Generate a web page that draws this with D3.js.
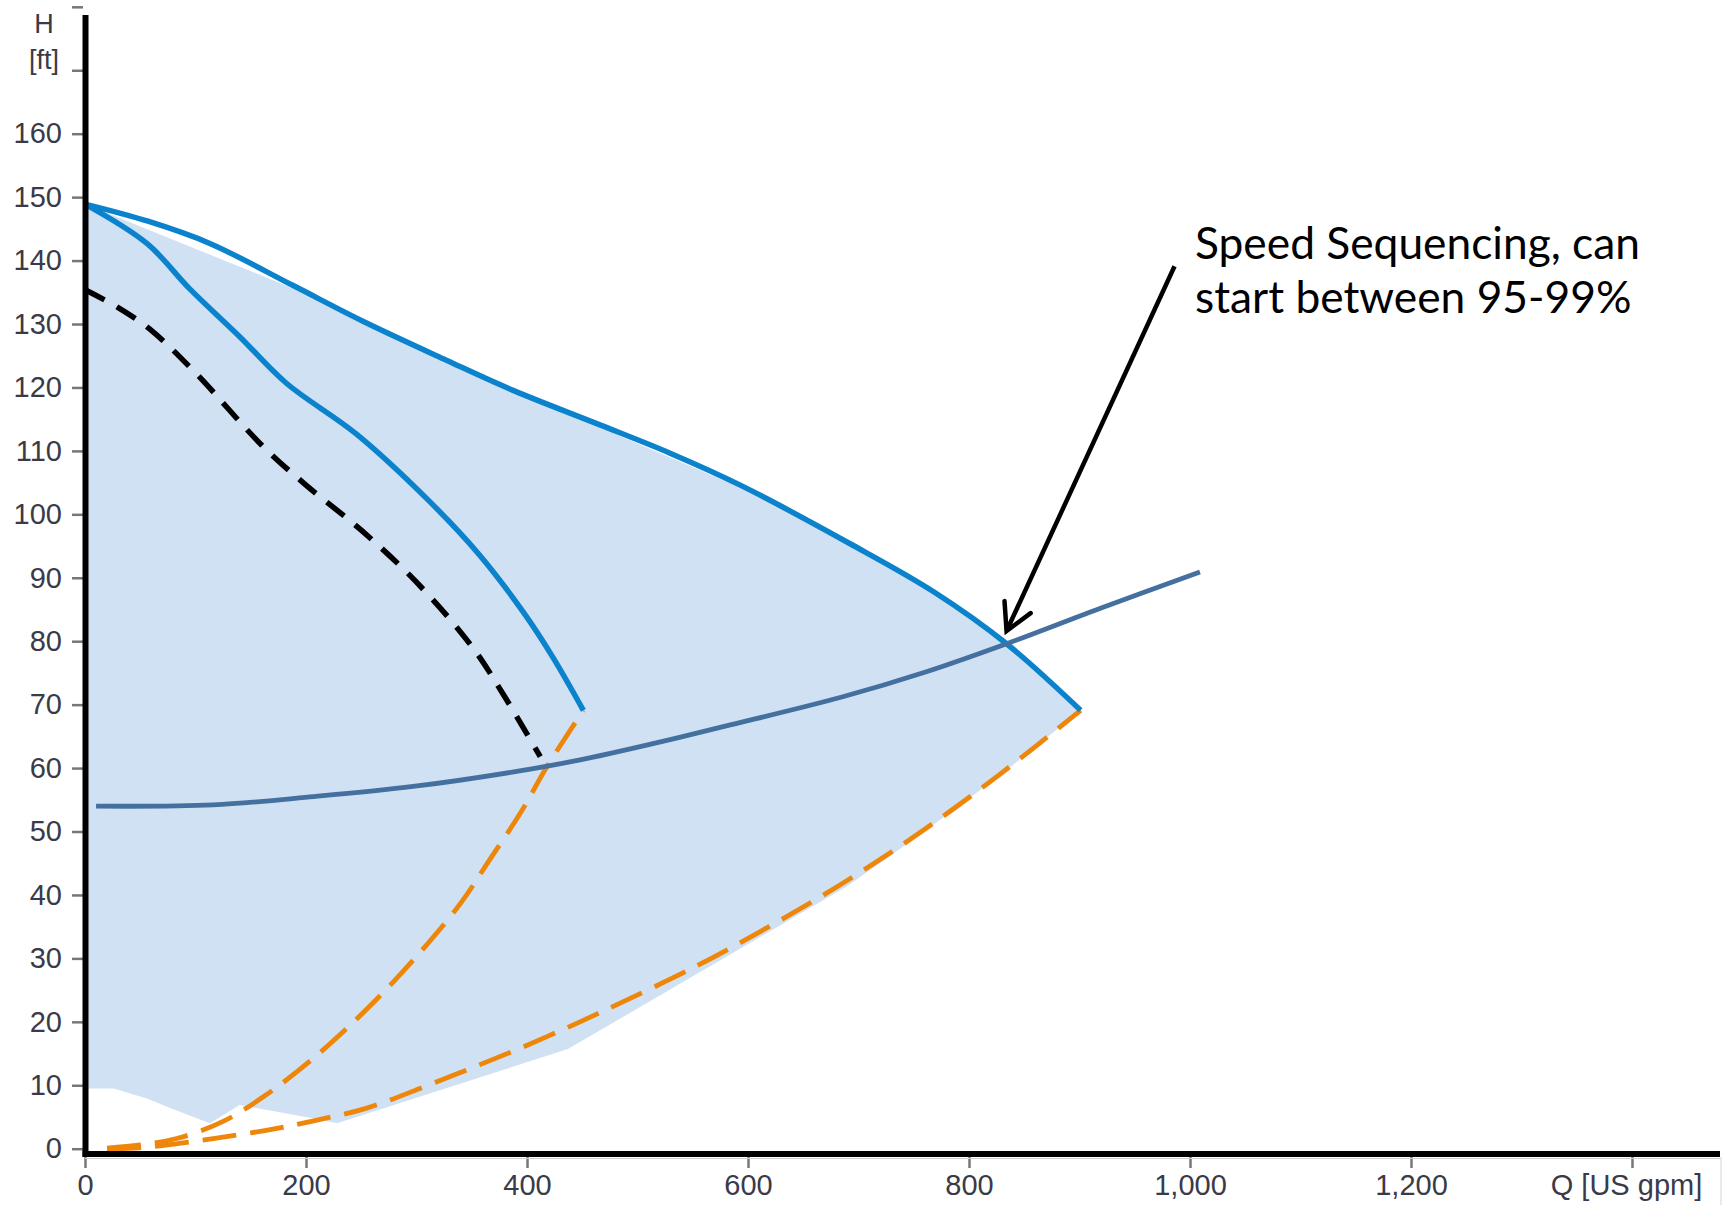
<!DOCTYPE html>
<html>
<head>
<meta charset="utf-8">
<script src="https://cdn.jsdelivr.net/npm/d3@7"></script>
<style>
  html, body { margin: 0; padding: 0; background: #fff; }
  svg { display: block; }
</style>
</head>
<body>
<svg id="chart" width="1732" height="1205"></svg>
<script>
// ---------- DATA (Q in US gpm, H in ft) ----------
const xTicks = [0, 200, 400, 600, 800, 1000, 1200, 1400];
const yTicks = [0, 10, 20, 30, 40, 50, 60, 70, 80, 90, 100, 110, 120, 130, 140, 150, 160, 170, 180];
const xAxisTitle = "Q [US gpm]";
const yAxisTitle = ["H", "[ft]"];

// 100% speed pump curve
const maxCurve = [[0,148.9],[57,146.2],[113,142.7],[188,136.1],[252,130.4],[327,124.3],[388,119.5],[466,114.1],[530,109.6],[593,104.6],[692,95.4],[768,87.8],[834,79.6],[901,69.1]];
// top edge of the operating area (sparse, sits just under the curve)
const areaTop = [[0,148.9],[190,135.5],[330,123.6],[466,113.7],[600,103.7],[700,94.5],[770,87.4],[834,79.4],[901,69.1]];
// bottom edge of the operating area
const areaBottom = [[0,9.5],[26,9.5],[56,7.9],[77,6.4],[113,4.0],[140,6.9],[155,6.4],[206,4.8],[228,4.0],[437,15.7],[690,41.4],[715,44.5],[758,49.8],[827,58.7],[901,69.1]];
// single pump curve
const singleCurve = [[0,148.9],[56,142.7],[95,135.5],[140,128.0],[182,120.7],[246,112.6],[312,102.0],[357,93.6],[397,84.5],[424,77.3],[451,69.1]];
// reduced speed curve (black dashed)
const reducedCurve = [[0,135.4],[30,132.6],[60,129.0],[100,122.3],[160,110.9],[200,104.6],[250,97.5],[300,89.3],[350,79.2],[380,71.2],[412,61.8]];
// system curve
const systemCurve = [[10,54.0],[116,54.2],[207,55.5],[297,57.1],[388,59.4],[448,61.3],[515,63.9],[584,66.8],[685,71.2],[760,75.1],[834,79.6],[919,85.2],[1009,90.9]];
// max-flow limit lines (orange dashed)
const limitOuter = [[20,0],[45,0.1],[70,0.5],[116,1.6],[164,2.9],[207,4.4],[255,6.4],[309,9.9],[351,12.8],[396,16.0],[448,20.0],[480,22.6],[549,28.4],[619,35.0],[689,42.2],[757,50.0],[827,58.9],[901,69.1]];
const limitInner = [[20,0.1],[50,0.6],[83,1.6],[125,4.3],[164,8.5],[207,14.3],[245,20.3],[278,26.1],[309,32.1],[340,38.7],[366,45.5],[394,52.9],[418,60.2],[451,69.1]];
// annotation
const annotationLines = ["Speed Sequencing, can", "start between 95-99%"];
const arrowTip = [834, 81.6];
const arrowStart = [986, 139.1];

// ---------- SCALES ----------
const svg = d3.select("#chart");
const x = d3.scaleLinear().domain([0, 1400]).range([85, 1632]);
const y = d3.scaleLinear().domain([0, 160]).range([1148.7, 133.7]);

const labelFont = "'Liberation Sans', Arial, sans-serif";
const labelColor = "#3a3a48";

// ---------- AREA ----------
const areaPts = areaTop.concat(areaBottom.slice().reverse());
svg.append("path")
  .attr("d", d3.line().x(d => x(d[0])).y(d => y(d[1]))(areaPts) + "Z")
  .attr("fill", "#d0e1f3");

// ---------- CURVES ----------
const smooth = d3.line().x(d => x(d[0])).y(d => y(d[1])).curve(d3.curveCatmullRom.alpha(0.5));

svg.append("path").attr("d", smooth(limitOuter))
  .attr("fill", "none").attr("stroke", "#ee860a").attr("stroke-width", 4.8)
  .attr("stroke-dasharray", "34,14");
svg.append("path").attr("d", smooth(limitInner))
  .attr("fill", "none").attr("stroke", "#ee860a").attr("stroke-width", 4.8)
  .attr("stroke-dasharray", "34,14");
svg.append("path").attr("d", smooth(reducedCurve))
  .attr("fill", "none").attr("stroke", "#000").attr("stroke-width", 5.5)
  .attr("stroke-dasharray", "22,14");
svg.append("path").attr("d", smooth(singleCurve))
  .attr("fill", "none").attr("stroke", "#0a82cc").attr("stroke-width", 5.5)
  .attr("stroke-linejoin", "round");
svg.append("path").attr("d", smooth(maxCurve))
  .attr("fill", "none").attr("stroke", "#0a82cc").attr("stroke-width", 5.5)
  .attr("stroke-linejoin", "round");
svg.append("path").attr("d", smooth(systemCurve))
  .attr("fill", "none").attr("stroke", "#44709f").attr("stroke-width", 4.8);

// ---------- AXES ----------
const yAxis = svg.append("g").attr("transform", "translate(83,0)")
  .call(d3.axisLeft(y).tickValues(yTicks).tickSize(11).tickPadding(10)
    .tickFormat(d => d <= 160 ? d : ""));
const xAxis = svg.append("g").attr("transform", "translate(0,1157)")
  .call(d3.axisBottom(x).tickValues(xTicks).tickSize(11).tickPadding(6)
    .tickFormat(d => d === 1400 ? xAxisTitle : d3.format(",")(d)));
[yAxis, xAxis].forEach(g => {
  g.select(".domain").remove();
  g.selectAll(".tick line").attr("stroke", "#777").attr("stroke-width", 2.5);
  g.selectAll(".tick text").attr("fill", labelColor)
    .style("font-family", labelFont).style("font-size", "29px");
});
xAxis.selectAll(".tick text").filter(d => d === 1400).attr("dx", "-6");

// axis title (H [ft])
svg.append("text").attr("x", 44).attr("y", 33).attr("text-anchor", "middle")
  .attr("fill", labelColor).style("font-family", labelFont).style("font-size", "27px")
  .text(yAxisTitle[0]);
svg.append("text").attr("x", 44).attr("y", 69).attr("text-anchor", "middle")
  .attr("fill", labelColor).style("font-family", labelFont).style("font-size", "27px")
  .text(yAxisTitle[1]);

// faint frame remnants
svg.append("line").attr("x1", 85).attr("x2", 1721).attr("y1", 1158.5).attr("y2", 1158.5)
  .attr("stroke", "#cfcfcf").attr("stroke-width", 1);
svg.append("line").attr("x1", 1721).attr("x2", 1721).attr("y1", 1157).attr("y2", 1205)
  .attr("stroke", "#e2e2e2").attr("stroke-width", 1.5);

// thick black axis lines
svg.append("line").attr("x1", 85.5).attr("x2", 85.5).attr("y1", 15).attr("y2", 1157)
  .attr("stroke", "#000").attr("stroke-width", 6);
svg.append("line").attr("x1", 82.5).attr("x2", 1720).attr("y1", 1154).attr("y2", 1154)
  .attr("stroke", "#000").attr("stroke-width", 6);

// ---------- ANNOTATION ----------
const tx = x(arrowTip[0]), ty = y(arrowTip[1]);
const sx = x(arrowStart[0]), sy = y(arrowStart[1]);
svg.append("line").attr("x1", sx).attr("y1", sy).attr("x2", tx).attr("y2", ty)
  .attr("stroke", "#000").attr("stroke-width", 4.5);
const ang = Math.atan2(ty - sy, tx - sx);
const armLen = 30, spread = 0.5;
const a1 = [tx - armLen * Math.cos(ang - spread), ty - armLen * Math.sin(ang - spread)];
const a2 = [tx - armLen * Math.cos(ang + spread), ty - armLen * Math.sin(ang + spread)];
svg.append("path")
  .attr("d", `M${a1[0]},${a1[1]}L${tx},${ty}L${a2[0]},${a2[1]}`)
  .attr("fill", "none").attr("stroke", "#000").attr("stroke-width", 4.5)
  .attr("stroke-linejoin", "miter").attr("stroke-linecap", "round");

const annFont = "Lato, 'Open Sans', sans-serif";
const ann = svg.append("g");
annotationLines.forEach((t, i) => {
  ann.append("text").attr("x", 1195).attr("y", 259 + i * 54)
    .attr("fill", "#000").style("font-family", annFont).style("font-size", "42px")
    .text(t);
});
// fit first line to ~445px width
const w0 = ann.select("text").node().getComputedTextLength();
const fs = 42 * 445 / w0;
ann.selectAll("text").style("font-size", fs.toFixed(1) + "px");
</script>
</body>
</html>
